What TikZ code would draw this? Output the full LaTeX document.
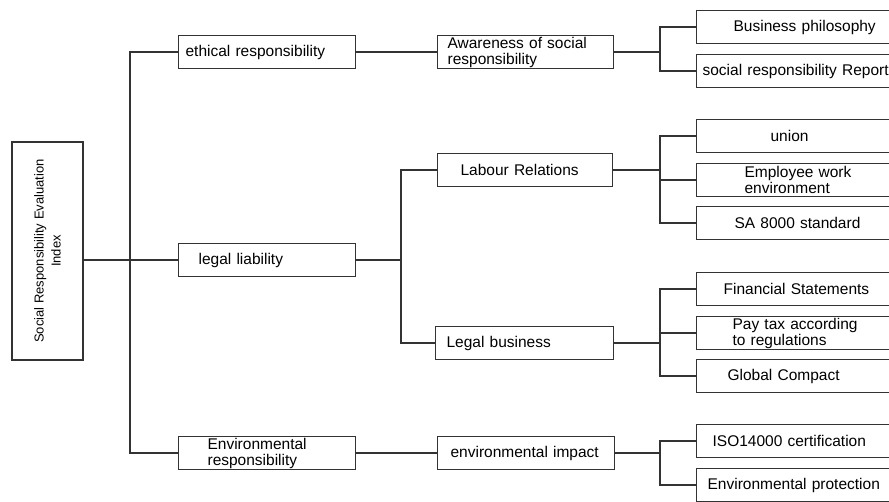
\documentclass[tikz,border=0pt]{standalone}
\usepackage{fontspec}
\setmainfont{Liberation Sans}

\tikzset{
  box/.style={draw=black!80, line width=1.2pt, anchor=west, minimum height=33pt,
    inner ysep=0pt, align=left, font=\fontsize{15.5}{16}\selectfont},
  link/.style={draw=black!80, line width=1.1pt},
}

\begin{document}
\begin{tikzpicture}[x=1pt,y=-1pt]
        \useasboundingbox (0,0) rectangle (889,502);
        \clip (0,0) rectangle (889,502);

        % root
        \node[draw=black!80, line width=1.2pt, rotate=90, minimum width=218pt, minimum height=71pt,
          align=center, font=\fontsize{13}{17}\selectfont] (root) at (47.5,251)
          {Social Responsibility Evaluation\\Index};

        % first level
        \node[box, inner xsep=7pt, text width=163pt] (eth) at (178,52) {ethical responsibility};
        \node[box, inner xsep=20pt, text width=137pt] (leg) at (178,260) {legal liability};
        \node[box, inner xsep=29pt, text width=119pt] (envr) at (178,453) {Environmental\\responsibility};

        % second level
        \node[box, inner xsep=10pt, text width=156pt] (aware) at (437,52) {Awareness of social\\responsibility};
        \node[box, inner xsep=23pt, text width=129pt] (lab) at (437,170) {Labour Relations};
        \node[box, inner xsep=11pt, text width=156pt] (lbus) at (435,343) {Legal business};
        \node[box, inner xsep=13pt, text width=151pt] (envimp) at (437,453) {environmental impact};

        % third level
        \node[box, inner xsep=37pt, text width=200pt] (phil) at (696,27) {Business philosophy};
        \node[box, inner xsep=6pt, text width=200pt] (report) at (696,71) {social responsibility Report};
        \node[box, inner xsep=74pt, text width=200pt] (union) at (696,136) {union};
        \node[box, inner xsep=48pt, text width=200pt] (empl) at (696,180) {Employee work\\environment};
        \node[box, inner xsep=38pt, text width=200pt] (sa) at (696,223) {SA 8000 standard};
        \node[box, inner xsep=27pt, text width=200pt] (fin) at (696,289) {Financial Statements};
        \node[box, inner xsep=36pt, text width=200pt] (tax) at (696,333) {Pay tax according\\to regulations};
        \node[box, inner xsep=31pt, text width=200pt] (glob) at (696,376) {Global Compact};
        \node[box, inner xsep=16pt, text width=200pt] (iso) at (696,441) {ISO14000 certification};
        \node[box, inner xsep=11pt, text width=200pt] (prot) at (696,485) {Environmental protection};

        % trunk
        \coordinate (t) at (130,260);
        \draw[link] (root.south |- leg.west) -- (leg.west);
        \draw[link] (eth.west) -| (t) |- (envr.west);

        \draw[link] (eth.east) -- (aware.west);
        \draw[link] (envr.east) -- (envimp.west);

        % brackets
        \coordinate (j1) at (401,260);
        \draw[link] (leg.east) -- (j1);
        \draw[link] (lab.west) -| (j1) |- (lbus.west);

        \coordinate (j2) at (660,52);
        \draw[link] (aware.east) -- (j2);
        \draw[link] (phil.west) -| (j2) |- (report.west);

        \coordinate (j3) at (660,180);
        \draw[link] (lab.east) -| (j3) -- (empl.west);
        \draw[link] (union.west) -| (j3) |- (sa.west);

        \coordinate (j4) at (660,333);
        \draw[link] (lbus.east) -| (j4) -- (tax.west);
        \draw[link] (fin.west) -| (j4) |- (glob.west);

        \coordinate (j5) at (660,453);
        \draw[link] (envimp.east) -- (j5);
        \draw[link] (iso.west) -| (j5) |- (prot.west);
    \end{tikzpicture}
\end{document}
